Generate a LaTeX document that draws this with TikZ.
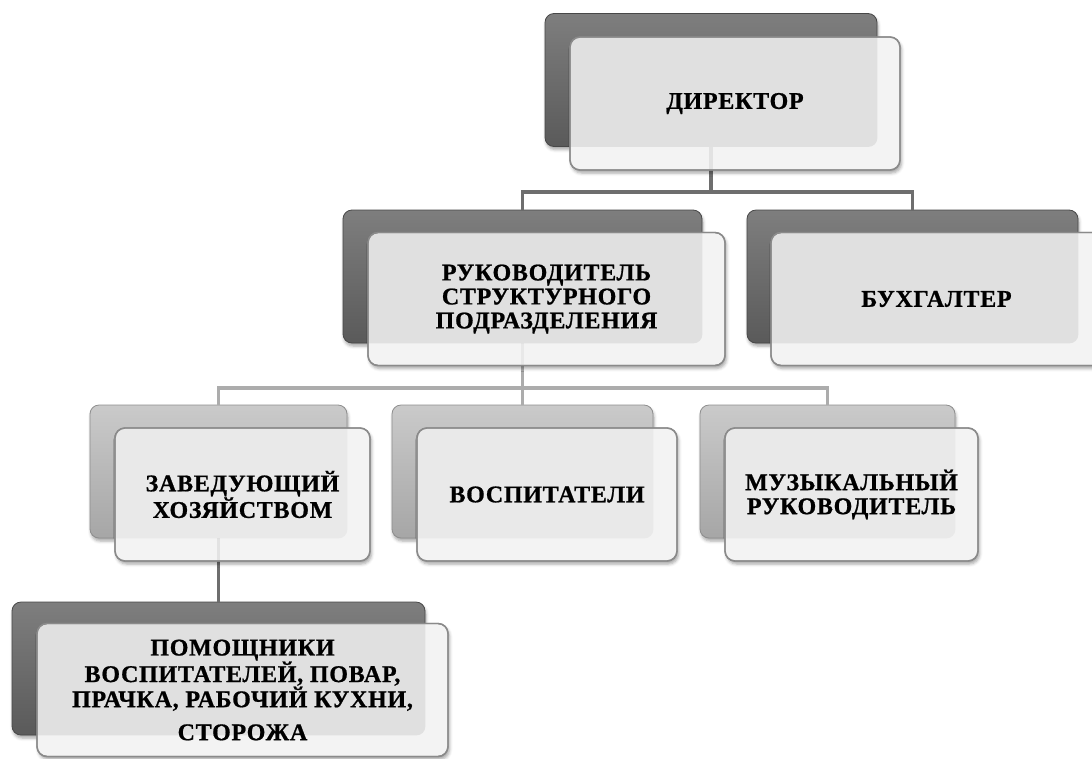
\documentclass[tikz,border=0pt]{standalone}
\usepackage{fontspec}
\setmainfont{Liberation Serif}
\newfontfamily\boxfont{Liberation Serif}[LetterSpace=3, BoldFeatures={FakeBold=0.8}]
\usetikzlibrary{shadows.blur}
\definecolor{dkT}{HTML}{7E7E7E}
\definecolor{dkB}{HTML}{5A5A5A}
\definecolor{ltT}{HTML}{CACACA}
\definecolor{ltB}{HTML}{A6A6A6}
\definecolor{frontfill}{HTML}{F3F3F3}
\definecolor{frontline}{HTML}{8A8A8A}
\definecolor{connDark}{HTML}{6E6E6E}
\definecolor{connLight}{HTML}{ACACAC}
\newcommand\seethrough[3]{%
  \begin{scope}
    \clip[rounded corners=10pt] (#1.south west) rectangle (#1.north east);
    \fill[#3, opacity=0.12, rounded corners=9pt] (#2.south west) rectangle (#2.north east);
  \end{scope}}
\begin{document}
\begin{tikzpicture}[x=1pt,y=-1pt,
  backbox/.style={rectangle, rounded corners=9pt, inner sep=0pt, minimum height=133pt,
    line width=0.8pt, blur shadow={shadow xshift=1pt, shadow yshift=-3pt, shadow blur radius=3pt, shadow opacity=35}},
  backdark/.style={backbox, draw=dkB!80!black, top color=dkT, bottom color=dkB},
  backlight/.style={backbox, draw=ltB!85!black, top color=ltT, bottom color=ltB},
  frontbox/.style={rectangle, rounded corners=10pt, inner sep=2pt, minimum height=133pt,
    draw=frontline, line width=1.4pt, fill=frontfill,
    blur shadow={shadow xshift=1.5pt, shadow yshift=-3pt, shadow blur radius=3pt, shadow opacity=35}},
  frontonly/.style={rectangle, rounded corners=10pt, inner sep=2pt, minimum height=133pt,
    draw=frontline, line width=1.4pt, align=center, font=\boxfont\bfseries\fontsize{24}{24}\selectfont},
  conn/.style={line width=3.6pt},
  conndark/.style={conn, draw=connDark},
  connlight/.style={conn, draw=connLight}
]
\useasboundingbox (0,0) rectangle (1092,758);

% back boxes
\node[backdark, minimum width=332pt] (dirB) at (711,80) {};
\node[backdark, minimum width=359pt] (rukB) at (522.5,276.5) {};
\node[backdark, minimum width=331pt] (buhB) at (912.5,276.5) {};
\node[backlight, minimum width=257pt] (zavB) at (218.5,471.5) {};
\node[backlight, minimum width=261pt] (vosB) at (522.5,471.5) {};
\node[backlight, minimum width=255pt] (muzB) at (827.5,471.5) {};
\node[backdark, minimum width=413pt] (pomB) at (218.5,668.5) {};

% connectors
\coordinate (bus1) at (711,192);
\coordinate (bus2) at (522.5,388);
\draw[conndark] (dirB.south) -- (bus1);
\draw[conndark] (rukB.north) |- (bus1) -| (buhB.north);
\draw[connlight] (rukB.south) -- (bus2);
\draw[connlight] (zavB.north) |- (bus2) -| (muzB.north);
\draw[connlight] (bus2) -- (vosB.north);
\draw[conndark] (zavB.south) -- (pomB.north);

% front boxes (opaque fill + shadow)
\node[frontbox, minimum width=330pt] (dir) at (735,103.5) {};
\node[frontbox, minimum width=357pt] (ruk) at (546.5,299) {};
\node[frontbox, minimum width=331pt] (buh) at (936.5,299) {};
\node[frontbox, minimum width=255pt] (zav) at (242.5,494.5) {};
\node[frontbox, minimum width=260pt] (vos) at (547,494.5) {};
\node[frontbox, minimum width=253pt] (muz) at (851.5,494.5) {};
\node[frontbox, minimum width=411pt] (pom) at (242.5,690) {};

% see-through tint of the back boxes and connectors
\seethrough{dir}{dirB}{dkB}
\seethrough{ruk}{rukB}{dkB}
\seethrough{buh}{buhB}{dkB}
\seethrough{zav}{zavB}{ltB}
\seethrough{vos}{vosB}{ltB}
\seethrough{muz}{muzB}{ltB}
\seethrough{pom}{pomB}{dkB}
\begin{scope}
  \clip[rounded corners=10pt] (dir.south west) rectangle (dir.north east);
  \draw[conndark, opacity=0.12] (dirB.south) -- (bus1);
\end{scope}
\begin{scope}
  \clip[rounded corners=10pt] (ruk.south west) rectangle (ruk.north east);
  \draw[connlight, opacity=0.15] (rukB.south) -- (bus2);
\end{scope}
\begin{scope}
  \clip[rounded corners=10pt] (zav.south west) rectangle (zav.north east);
  \draw[conndark, opacity=0.12] (zavB.south) -- (pomB.north);
\end{scope}

% texts with outlines
\node[frontonly, minimum width=330pt] (dirT) at (dir) {ДИРЕКТОР};
\node[frontonly, minimum width=357pt] (rukT) at (ruk) {РУКОВОДИТЕЛЬ\\СТРУКТУРНОГО\\ПОДРАЗДЕЛЕНИЯ};
\node[frontonly, minimum width=331pt] (buhT) at (buh) {БУХГАЛТЕР};
\node[frontonly, minimum width=255pt] (zavT) at (zav) {ЗАВЕДУЮЩИЙ\\ХОЗЯЙСТВОМ};
\node[frontonly, minimum width=260pt] (vosT) at (vos) {ВОСПИТАТЕЛИ};
\node[frontonly, minimum width=253pt] (muzT) at (muz) {МУЗЫКАЛЬНЫЙ\\РУКОВОДИТЕЛЬ};
\node[frontonly, minimum width=411pt] (pomT) at (pom) {ПОМОЩНИКИ\\ВОСПИТАТЕЛЕЙ, ПОВАР,\\ПРАЧКА, РАБОЧИЙ КУХНИ,\\[9pt]СТОРОЖА};
\end{tikzpicture}
\end{document}
